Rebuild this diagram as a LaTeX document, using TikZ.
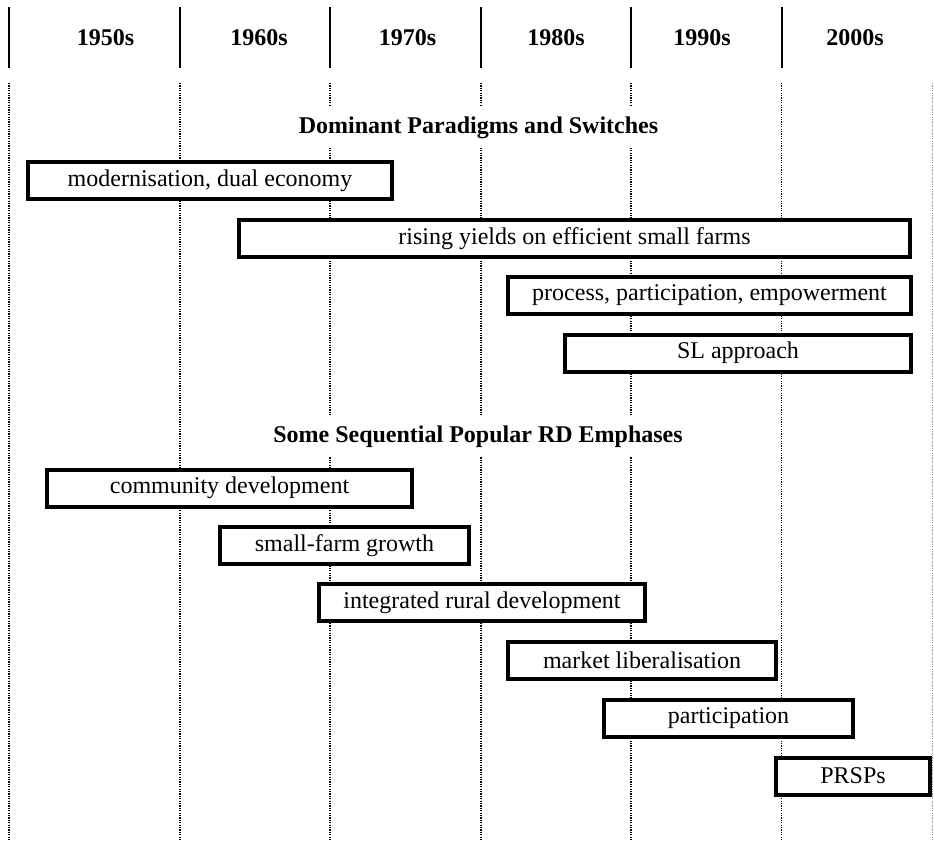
\documentclass[tikz,border=0pt]{standalone}
\usepackage{fontspec}
\setmainfont{Liberation Serif}

\tikzset{
  phase/.style={draw, line width=4pt, fill=white, inner sep=0pt, minimum height=37pt, font=\fontsize{24}{28}\selectfont},
  decade/.style={anchor=base, font=\bfseries\fontsize{24}{28}\selectfont},
  heading/.style={anchor=base, fill=white, inner xsep=6pt, inner ysep=9pt, font=\bfseries\fontsize{24}{28}\selectfont},
  divider/.style={line width=2pt},
  decadeline/.style={line width=1.2pt, dash pattern=on 1.2pt off 1.2pt}
}

\begin{document}
\begin{tikzpicture}[x=1pt, y=-1pt]
			%%%%% START %%%%%
			\useasboundingbox (0, 0) rectangle (934, 841);
			
			% dotted decade lines
			\draw[decadeline] (9, 83) -- (9, 841);
			\draw[decadeline] (180, 83) -- (180, 841);
			\draw[decadeline] (330, 83) -- (330, 841);
			\draw[decadeline] (481, 83) -- (481, 841);
			\draw[decadeline] (631, 83) -- (631, 841);
			\draw[decadeline] (781.5, 83) -- (781.5, 841);
			\draw[decadeline, black!45] (932.5, 83) -- (932.5, 841);
			
			% header
			\draw[divider] (9, 7) -- (9, 68);
			\draw[divider] (180, 7) -- (180, 68);
			\draw[divider] (330, 7) -- (330, 68);
			\draw[divider] (481, 7) -- (481, 68);
			\draw[divider] (631, 7) -- (631, 68);
			\draw[divider] (782, 7) -- (782, 68);
			
			\node[decade] (d1950) at (105.5, 45) {1950s};
			\node[decade] (d1960) at (259, 45) {1960s};
			\node[decade] (d1970) at (407.5, 45) {1970s};
			\node[decade] (d1980) at (556, 45) {1980s};
			\node[decade] (d1990) at (702, 45) {1990s};
			\node[decade] (d2000) at (855, 45) {2000s};
			
			% paradigms
			\node[heading] (paradigms) at (478.5, 133) {Dominant Paradigms and Switches};
			\node[phase, minimum width=364pt] (modern) at (210, 180.5) {modernisation, dual economy};
			\node[phase, minimum width=671pt] (yields) at (574.5, 238.5) {rising yields on efficient small farms};
			\node[phase, minimum width=403pt] (process) at (709.5, 295.5) {process, participation, empowerment};
			\node[phase, minimum width=346pt] (slapp) at (738, 353) {SL approach};
			
			% emphases
			\node[heading] (emphases) at (478, 442) {Some Sequential Popular RD Emphases};
			\node[phase, minimum width=365pt] (community) at (229.5, 488) {community development};
			\node[phase, minimum width=249pt] (smallfarm) at (344.5, 545.5) {small-farm growth};
			\node[phase, minimum width=326pt] (ird) at (482, 602.5) {integrated rural development};
			\node[phase, minimum width=268pt] (market) at (642, 660) {market liberalisation};
			\node[phase, minimum width=249pt] (particip) at (728.5, 718) {participation};
			\node[phase, minimum width=154pt] (prsp) at (853, 776) {PRSPs};
			%%%%% END %%%%%
\end{tikzpicture}
\end{document}
